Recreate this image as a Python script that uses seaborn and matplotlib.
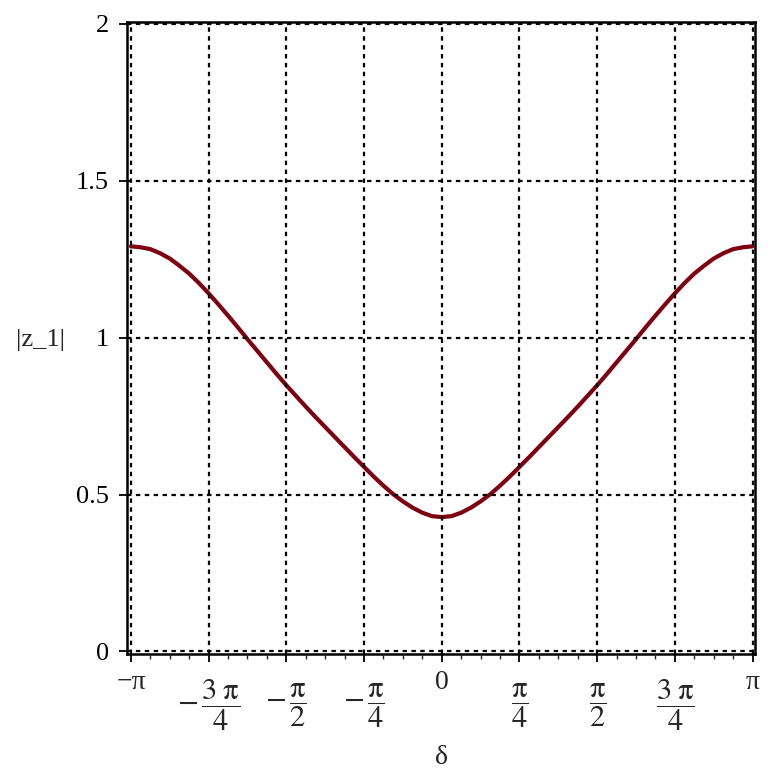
import numpy as np
import pandas as pd
import matplotlib
matplotlib.use("Agg")
import matplotlib.pyplot as plt
import seaborn as sns
from matplotlib.ticker import FixedLocator, MultipleLocator

# delta in steps of pi/32, from -pi to pi (curve is symmetric about 0)
delta_steps = list(range(-32, 33))
z1_half = [1.291, 1.288, 1.282, 1.269, 1.252, 1.229, 1.204, 1.174,
           1.141, 1.106, 1.070, 1.033, 0.995, 0.958, 0.921, 0.884,
           0.848, 0.814, 0.780, 0.747, 0.715, 0.683, 0.651, 0.619,
           0.588, 0.557, 0.528, 0.501, 0.478, 0.458, 0.442, 0.431]
z1_mid = [0.428]
z1_values = z1_half + z1_mid + z1_half[::-1]

xtick_steps = [-4, -3, -2, -1, 0, 1, 2, 3, 4]
xtick_labels = ['−π', r'$-\,\dfrac{\mathrm{3\;π}}{\mathrm{4}}$',
                r'$-\,\dfrac{\mathrm{π}}{\mathrm{2}}$', r'$-\,\dfrac{\mathrm{π}}{\mathrm{4}}$',
                '0', r'$\dfrac{\mathrm{π}}{\mathrm{4}}$',
                r'$\dfrac{\mathrm{π}}{\mathrm{2}}$', r'$\dfrac{\mathrm{3\;π}}{\mathrm{4}}$',
                'π']
yticks = [0, 0.5, 1, 1.5, 2]
ytick_labels = ['0', '0.5', '1', '1.5', '2']

df = pd.DataFrame({'delta': np.array(delta_steps) * np.pi / 32, 'z1': z1_values})

sns.set_style('white')
plt.rcParams['font.family'] = ['Liberation Serif', 'DejaVu Serif']
plt.rcParams['mathtext.fontset'] = 'stix'

fig = plt.figure(figsize=(7.72, 7.72), dpi=100)
ax = fig.add_axes([0.1645, 0.153, 0.8135, 0.8185])

sns.lineplot(data=df, x='delta', y='z1', color='#7f0010', linewidth=3.0, ax=ax)

ax.set_xlim(-np.pi - 0.04, np.pi + 0.025)
ax.set_ylim(-0.008, 2.006)

xticks = np.array(xtick_steps) * np.pi / 4
ax.xaxis.set_major_locator(FixedLocator(xticks))
ax.xaxis.set_minor_locator(MultipleLocator(np.pi / 16))
ax.set_xticklabels([])
ax.set_yticks(yticks)
ax.set_yticklabels(ytick_labels, fontsize=19)

ax.tick_params(axis='both', which='major', direction='out', length=6, width=1.3,
               color='black', labelcolor='black', bottom=True, left=True)
ax.tick_params(axis='y', which='major', pad=7)
ax.tick_params(axis='x', which='minor', direction='out', length=3.5, width=1.0,
               bottom=True)

# x tick labels written by hand: fractions sit lower (Maple style)
xtrans = ax.get_xaxis_transform()
for x, lab in zip(xticks, xtick_labels):
    if 'frac' in lab:
        ax.text(x, -0.082, lab, transform=xtrans, fontsize=22,
                ha='center', va='center', clip_on=False)
    else:
        ax.text(x, -0.046, lab, transform=xtrans, fontsize=20,
                ha='center', va='center', clip_on=False)

ax.grid(True, which='major', color='black', linestyle=(0, (2, 2)), linewidth=1.6)
ax.set_axisbelow(False)
for s in ax.spines.values():
    s.set_color('black')
    s.set_linewidth(1.8)

ax.set_xlabel('δ', fontsize=20)
ax.xaxis.set_label_coords(0.5, -0.144)
ax.set_ylabel('|z_1|', fontsize=19, rotation=0, ha='center', va='center')
ax.yaxis.set_label_coords(-0.137, 0.497)

fig.savefig('out.png', dpi=100)
